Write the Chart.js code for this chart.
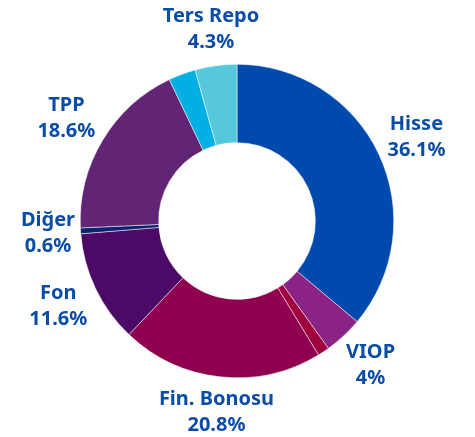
<!DOCTYPE html>
<html>
<head>
<meta charset="utf-8">
<script src="https://cdn.jsdelivr.net/npm/chart.js@4"></script>
<style>
  html, body { margin: 0; padding: 0; background: #fff; }
  #wrap { width: 475px; height: 437px; position: relative; }
</style>
</head>
<body>
<div id="wrap"><canvas id="myChart"></canvas></div>
<script>
// slices clockwise from 12 o'clock; empty name = no label drawn
const categories = ['Hisse', 'VIOP', '', 'Fin. Bonosu', 'Fon', 'Diğer', 'TPP', '', 'Ters Repo'];
const shares = [36.1, 4, 1.2, 20.8, 11.6, 0.6, 18.6, 2.8, 4.3];
const shareLabels = ['36.1%', '4%', '', '20.8%', '11.6%', '0.6%', '18.6%', '', '4.3%'];
const sliceColors = ['#004aad', '#8a2383', '#a1003f', '#8f004f', '#4a0a66', '#0b236f', '#622474', '#00b0e4', '#55c8dc'];

const labelFont = 'bold 20px "Noto Sans", Inter, sans-serif';
const lineGap = 26;

const outsideLabels = {
    id: 'outsideLabels',
    afterDatasetsDraw(chart) {
        const ctx = chart.ctx;
        const meta = chart.getDatasetMeta(0);
        ctx.save();
        ctx.font = labelFont;
        ctx.fillStyle = '#0a4ca6';
        ctx.textAlign = 'center';
        ctx.textBaseline = 'middle';
        meta.data.forEach(function (arc, i) {
            if (!categories[i]) {
                return;
            }
            const a = (arc.startAngle + arc.endAngle) / 2;
            const w = Math.max(ctx.measureText(categories[i]).width, ctx.measureText(shareLabels[i]).width) / 2;
            const h = 26;
            // push box out so its nearest side sits just beyond the ring
            const extent = w * Math.abs(Math.cos(a)) + h * Math.abs(Math.sin(a));
            const r = arc.outerRadius + extent + 4;
            const x = arc.x + r * Math.cos(a);
            const y = arc.y + r * Math.sin(a);
            ctx.fillText(categories[i], x, y - lineGap / 2);
            ctx.fillText(shareLabels[i], x, y + lineGap / 2);
        });
        ctx.restore();
    }
};

const config = {
    type: 'doughnut',
    data: {
        labels: categories,
        datasets: [{
            data: shares,
            backgroundColor: sliceColors,
            borderColor: '#ffffff',
            borderWidth: 0.5
        }]
    },
    options: {
        responsive: true,
        maintainAspectRatio: false,
        animation: false,
        cutout: '50%',
        layout: {
            padding: { left: 80, right: 81, top: 64, bottom: 59 }
        },
        plugins: {
            legend: { display: false },
            tooltip: { enabled: false }
        }
    },
    plugins: [outsideLabels]
};

const myChart = new Chart(document.getElementById('myChart'), config);
</script>
</body>
</html>
